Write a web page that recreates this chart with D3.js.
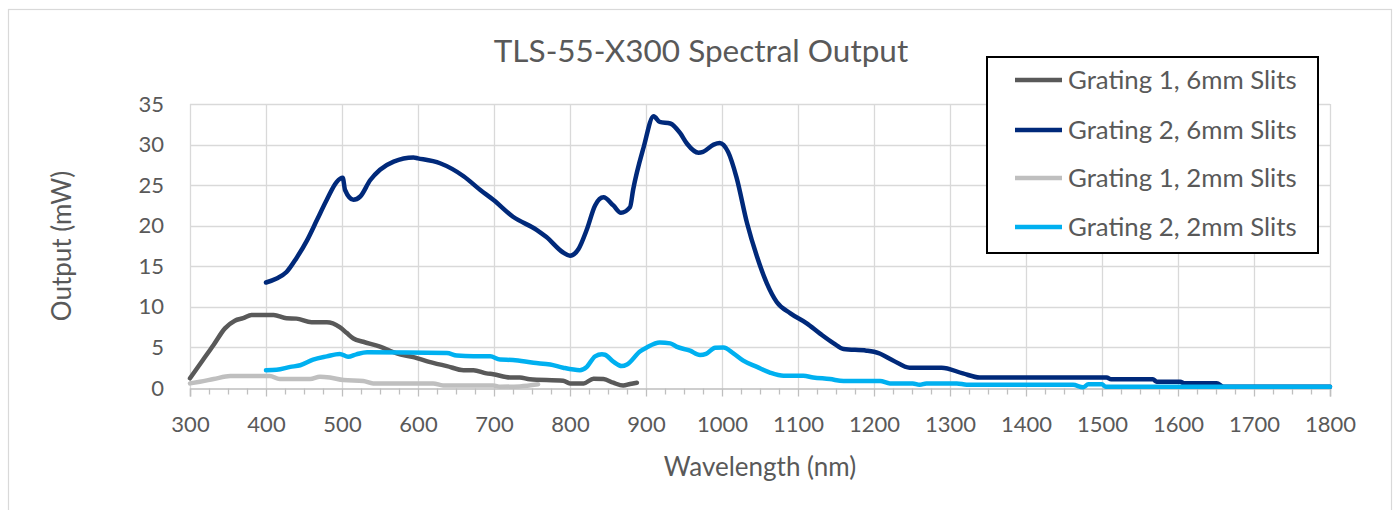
<!DOCTYPE html>
<html>
<head>
<meta charset="utf-8">
<script src="https://cdn.jsdelivr.net/npm/d3@7"></script>
<style>
  html, body { margin: 0; padding: 0; background: #ffffff; }
  svg { display: block; font-family: Lato, "Open Sans", sans-serif; }
</style>
</head>
<body>
<svg id="chart" width="1393" height="510"></svg>
<script>
// ---- data ----
const seriesNames = ["Grating 1, 6mm Slits", "Grating 2, 6mm Slits", "Grating 1, 2mm Slits", "Grating 2, 2mm Slits"];
const seriesColors = ["#595959", "#00297a", "#bfbfbf", "#00b0f0"];

const wlG1_6mm = [300,317,331,346,359,370,381,410,427,440,460,480,497,506,515,528,550,572,594,620,638,660,673,690,699,721,734,747,791,800,818,831,844,857,870,879,888];
const outG1_6mm = [1.2,3.45,5.3,7.35,8.3,8.6,9.0,9.0,8.6,8.55,8.1,8.1,7.5,6.8,6.1,5.7,5.1,4.27,3.8,3.1,2.7,2.2,2.2,1.8,1.7,1.3,1.3,1.07,0.9,0.57,0.57,1.15,1.1,0.65,0.3,0.5,0.65];

const wlG2_6mm = [400,414,427,440,454,467,480,493,501,504,515,524,537,550,568,594,600,629,660,682,699,725,756,769,791,800,811,822,833,844,857,867,879,883,897,910,918,932,945,954,969,975,989,997,1008,1019,1033,1046,1059,1072,1090,1111,1129,1147,1160,1190,1206,1225,1247,1289,1317,1339,1506,1512,1567,1572,1603,1608,1651,1660,1800];
const outG2_6mm = [13.0,13.5,14.3,16.0,18.2,20.7,23.2,25.4,25.9,24.4,23.2,23.6,25.6,26.9,27.9,28.4,28.3,27.7,26.1,24.4,23.2,21.1,19.5,18.6,16.7,16.3,17.1,19.5,22.5,23.5,22.5,21.6,22.3,24.4,29.7,33.5,32.8,32.6,31.4,30.1,29.0,29.1,30.0,30.2,29.1,26.0,20.3,16.2,12.9,10.6,9.2,8.0,6.7,5.5,4.8,4.6,4.3,3.4,2.5,2.5,1.8,1.3,1.3,1.07,1.07,0.78,0.78,0.58,0.58,0.15,0.15];

const wlG1_2mm = [300,313,331,353,405,418,458,471,484,502,528,541,620,633,699,708,734,758];
const outG1_2mm = [0.57,0.78,1.1,1.48,1.48,1.1,1.1,1.4,1.3,0.98,0.86,0.57,0.57,0.32,0.32,0.16,0.2,0.45];

const wlG2_2mm = [400,414,432,445,462,480,497,508,519,533,638,651,673,695,708,725,752,774,791,813,822,833,842,846,857,868,875,892,901,918,932,940,958,971,979,991,1002,1015,1028,1046,1063,1081,1107,1120,1142,1160,1208,1221,1251,1260,1269,1309,1322,1462,1475,1482,1500,1505,1800];
const outG2_2mm = [2.2,2.25,2.6,2.8,3.5,3.9,4.2,3.85,4.15,4.4,4.3,4.0,3.9,3.9,3.5,3.45,3.1,2.9,2.5,2.2,2.6,3.9,4.15,4.1,3.25,2.7,2.9,4.5,5.0,5.6,5.5,5.1,4.6,4.06,4.2,4.96,5.0,4.27,3.37,2.6,1.9,1.5,1.5,1.3,1.1,0.86,0.86,0.57,0.57,0.4,0.57,0.57,0.4,0.4,0.08,0.45,0.45,0.16,0.16];

const xTicks = [300,400,500,600,700,800,900,1000,1100,1200,1300,1400,1500,1600,1700,1800];
const yTicks = [0,5,10,15,20,25,30,35];
const titleText = "TLS-55-X300 Spectral Output";
const xTitle = "Wavelength (nm)";
const yTitle = "Output (mW)";

// ---- layout ----
const svg = d3.select("#chart");
const plot = { left: 190, right: 1330, top: 104, bottom: 388 };
const textColor = "#595959";

const x = d3.scaleLinear().domain([300, 1800]).range([plot.left, plot.right]);
const y = d3.scaleLinear().domain([0, 35]).range([plot.bottom, plot.top]);

// chart border
svg.append("rect").attr("x", 8.5).attr("y", 9.5).attr("width", 1383).attr("height", 520)
  .attr("fill", "#ffffff").attr("stroke", "#d9d9d9").attr("stroke-width", 1.2);

// gridlines
const grid = svg.append("g");
grid.selectAll("line.h").data(yTicks.filter(d => d > 0)).join("line")
  .attr("x1", plot.left).attr("x2", plot.right)
  .attr("y1", d => Math.round(y(d)) + 0.5).attr("y2", d => Math.round(y(d)) + 0.5)
  .attr("stroke", "#d9d9d9").attr("stroke-width", 1.3);
grid.selectAll("line.v").data(xTicks).join("line")
  .attr("x1", d => Math.round(x(d)) + 0.5).attr("x2", d => Math.round(x(d)) + 0.5)
  .attr("y1", plot.top).attr("y2", plot.bottom)
  .attr("stroke", "#d9d9d9").attr("stroke-width", 1.3);

// x axis with major + minor ticks
const minorTicks = d3.range(300, 1801, 25).filter(d => d % 100 !== 0);
const xAxisMinor = d3.axisBottom(x).tickValues(minorTicks).tickSize(6).tickFormat("");
const gMinor = svg.append("g").attr("transform", `translate(0,${plot.bottom + 0.5})`).call(xAxisMinor);
gMinor.select(".domain").remove();
gMinor.selectAll(".tick line").attr("stroke", "#bfbfbf").attr("stroke-width", 1.3);

const xAxis = d3.axisBottom(x).tickValues(xTicks).tickSize(8).tickPadding(20).tickFormat(d3.format("d"));
const gx = svg.append("g").attr("transform", `translate(0,${plot.bottom + 0.5})`).call(xAxis);
gx.select(".domain").attr("stroke", "#bfbfbf").attr("stroke-width", 1.5);
gx.selectAll(".tick line").attr("stroke", "#bfbfbf").attr("stroke-width", 1.3);
gx.selectAll(".tick text").attr("fill", textColor).attr("font-size", 22).attr("font-family", "Lato");

const yAxis = d3.axisLeft(y).tickValues(yTicks).tickSize(0).tickPadding(26);
const gy = svg.append("g").attr("transform", `translate(${plot.left},0)`).call(yAxis);
gy.select(".domain").remove();
gy.selectAll(".tick text").attr("fill", textColor).attr("font-size", 22).attr("font-family", "Lato");

// series
const series = [
  { name: seriesNames[0], color: seriesColors[0], xs: wlG1_6mm, ys: outG1_6mm },
  { name: seriesNames[1], color: seriesColors[1], xs: wlG2_6mm, ys: outG2_6mm },
  { name: seriesNames[2], color: seriesColors[2], xs: wlG1_2mm, ys: outG1_2mm },
  { name: seriesNames[3], color: seriesColors[3], xs: wlG2_2mm, ys: outG2_2mm }
];
const line = d3.line().x(d => x(d[0])).y(d => y(d[1])).curve(d3.curveMonotoneX);
svg.append("g").selectAll("path").data(series).join("path")
  .attr("d", s => line(s.xs.map((v, i) => [v, s.ys[i]])))
  .attr("fill", "none").attr("stroke", s => s.color)
  .attr("stroke-width", 4.5).attr("stroke-linejoin", "round").attr("stroke-linecap", "round");

// title
svg.append("text").attr("x", 701).attr("y", 62).attr("text-anchor", "middle")
  .attr("fill", textColor).attr("font-size", 31.5).text(titleText);

// axis titles
svg.append("text").attr("x", 760).attr("y", 476).attr("text-anchor", "middle")
  .attr("fill", textColor).attr("font-size", 26).text(xTitle);
svg.append("text").attr("transform", `translate(71,${(plot.top + plot.bottom) / 2}) rotate(-90)`)
  .attr("text-anchor", "middle").attr("fill", textColor).attr("font-size", 26).text(yTitle);

// legend
const lg = svg.append("g");
lg.append("rect").attr("x", 987).attr("y", 57).attr("width", 331).attr("height", 196)
  .attr("fill", "#ffffff").attr("stroke", "#000000").attr("stroke-width", 2);
const rowY = [80, 130, 178, 227];
const items = lg.selectAll("g.item").data(series).join("g")
  .attr("transform", (d, i) => `translate(0,${rowY[i]})`);
items.append("line").attr("x1", 1015).attr("x2", 1062).attr("y1", 0).attr("y2", 0)
  .attr("stroke", d => d.color).attr("stroke-width", 4.5);
items.append("text").attr("x", 1068).attr("y", 0).attr("dy", "0.36em")
  .attr("fill", textColor).attr("font-size", 25.8).text(d => d.name);
</script>
</body>
</html>
